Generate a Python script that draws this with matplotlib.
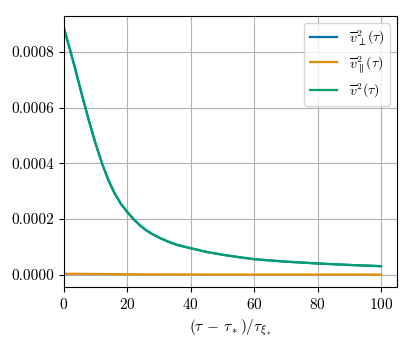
import matplotlib
matplotlib.use("Agg")
import matplotlib.pyplot as plt

plt.rcParams["font.family"] = "serif"
plt.rcParams["font.serif"] = ["cmr10", "DejaVu Serif"]
plt.rcParams["mathtext.fontset"] = "cm"
plt.rcParams["axes.formatter.use_mathtext"] = True
plt.rcParams["axes.unicode_minus"] = False

tau = [0, 2, 4, 6, 8, 10, 12, 14, 16, 18, 20, 22, 24, 26, 28, 30, 33, 36,
       40, 45, 50, 55, 60, 70, 80, 90, 100]
v_total = [0.000885, 0.000805, 0.000720, 0.000632, 0.000548, 0.000470, 0.000400,
           0.000340, 0.000292, 0.000254, 0.000225, 0.000199, 0.000177, 0.000159,
           0.000145, 0.000133, 0.000118, 0.000106, 0.0000948, 0.0000815,
           0.0000715, 0.0000630, 0.0000555, 0.0000465, 0.0000400, 0.0000347,
           0.0000303]
v_par = [0.0000030, 0.0000029, 0.0000028, 0.0000027, 0.0000025, 0.0000023,
         0.0000021, 0.0000019, 0.0000017, 0.0000015, 0.0000013, 0.0000012,
         0.0000010, 0.0000009, 0.0000008, 0.0000007, 0.0000006, 0.0000005,
         0.0000004, 0.0000003, 0.0000003, 0.0000002, 0.0000002, 0.0000001,
         0.0000001, 0.0000001, 0.0000001]
v_perp = [t - p for t, p in zip(v_total, v_par)]

labels = [r"$\overline{v}_\perp^2(\tau)$", r"$\overline{v}_\parallel^2(\tau)$",
          r"$\overline{v}^2(\tau)$"]
colors = ["#0173b2", "#de8f05", "#029e73"]

fig = plt.figure(figsize=(4.13, 3.44), dpi=100)
ax = fig.add_axes([0.155, 0.166, 0.806, 0.788])
ax.plot(tau, v_perp, color=colors[0], lw=1.6, label=labels[0])
ax.plot(tau, v_par, color=colors[1], lw=1.6, label=labels[1])
ax.plot(tau, v_total, color=colors[2], lw=1.6, label=labels[2])
ax.set_xlim(0, 105)
ax.set_xticks([0, 20, 40, 60, 80, 100])
ax.set_yticks([0, 0.0002, 0.0004, 0.0006, 0.0008])
ax.set_yticklabels(["0.0000", "0.0002", "0.0004", "0.0006", "0.0008"])
ax.tick_params(labelsize=11)
ax.grid(True, color="#b0b0b0", lw=0.8)
ax.set_xlabel(r"$(\tau \,-\, \tau_*)/\tau_{\xi_*}$", fontsize=11)
ax.legend(loc="upper right", fontsize=10)
fig.savefig("out.png", dpi=100)
